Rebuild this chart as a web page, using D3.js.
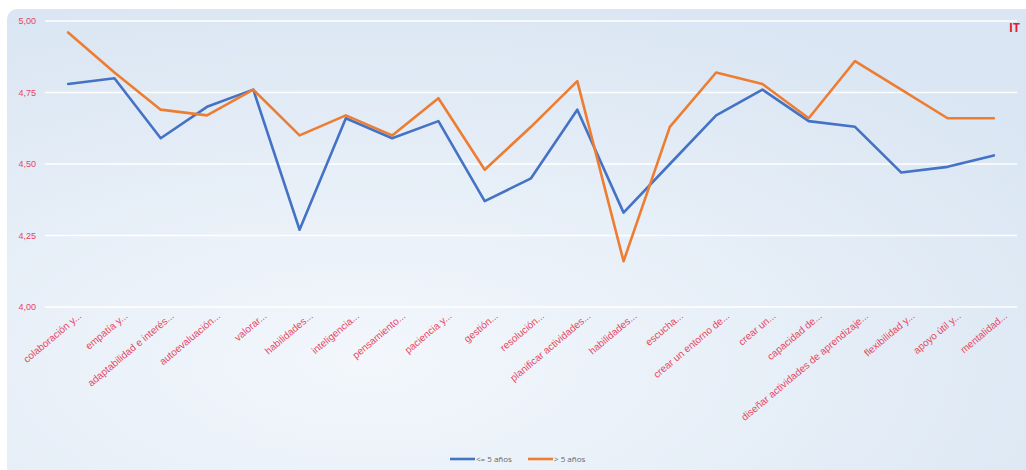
<!DOCTYPE html>
<html><head><meta charset="utf-8">
<script src="https://cdn.jsdelivr.net/npm/d3@7"></script>
<style>html,body{margin:0;padding:0;background:#fff;}svg{display:block;font-family:"Open Sans","Noto Sans",sans-serif;}</style>
</head><body><svg id="c" width="1026" height="470"></svg>
<script>
const categories = ["colaboración y...","empatía y...","adaptabilidad e interés...","autoevaluación...","valorar...","habilidades...","inteligencia...","pensamiento...","paciencia y...","gestión...","resolución...","planificar actividades...","habilidades...","escucha...","crear un entorno de...","crear un...","capacidad de...","diseñar actividades de aprendizaje...","flexibilidad y...","apoyo útil y...","mentalidad..."];
const seriesLE5 = [4.78,4.80,4.59,4.70,4.76,4.27,4.66,4.59,4.65,4.37,4.45,4.69,4.33,4.50,4.67,4.76,4.65,4.63,4.47,4.49,4.53];
const seriesGT5 = [4.96,4.82,4.69,4.67,4.76,4.60,4.67,4.60,4.73,4.48,4.63,4.79,4.16,4.63,4.82,4.78,4.66,4.86,4.76,4.66,4.66];
const seriesNames = ["<= 5 años","> 5 años"];
const yTicks = [4.00,4.25,4.50,4.75,5.00];
const title = "IT";

const svg = d3.select("#c");
const defs = svg.append("defs");
const rg = defs.append("radialGradient").attr("id","bg").attr("cx","0.35").attr("cy","0.75").attr("r","0.8");
rg.append("stop").attr("offset","0").attr("stop-color","#f3f7fc");
rg.append("stop").attr("offset","1").attr("stop-color","#dae6f3");
svg.append("rect").attr("x",7).attr("y",9).attr("width",1030).attr("height",470).attr("rx",10).attr("fill","url(#bg)");

const m = {l:45, r:1017, t:21, b:307};
const x = d3.scaleBand().domain(d3.range(categories.length)).range([m.l,m.r]);
const y = d3.scaleLinear().domain([4,5]).range([m.b,m.t]);
const red = "#e8455e";

// gridlines
svg.append("g").selectAll("line").data(yTicks).join("line")
  .attr("x1",m.l).attr("x2",m.r).attr("y1",d=>y(d)).attr("y2",d=>y(d))
  .attr("stroke","#ffffff").attr("stroke-width",1.5);

// y axis
const fmt = d=>d.toFixed(2).replace(".",",");
const ya = svg.append("g").attr("transform",`translate(${m.l-9},0)`)
  .call(d3.axisLeft(y).tickValues(yTicks).tickFormat(fmt).tickSize(0));
ya.select(".domain").remove();
ya.selectAll("text").attr("fill",red).attr("font-size",9).attr("dx",0).attr("x",0).attr("text-anchor","end").attr("dy","0.32em");

// x axis
const xa = svg.append("g").attr("transform",`translate(0,${m.b})`)
  .call(d3.axisBottom(x).tickFormat(i=>categories[i]).tickSize(0));
xa.select(".domain").remove();
xa.selectAll("text").attr("fill",red).attr("font-size",10)
  .attr("text-anchor","end").attr("dy",0).attr("y",0)
  .attr("transform","translate(14,10) rotate(-40)");

// lines
const line = d3.line().x((d,i)=>x(i)+x.bandwidth()/2).y(d=>y(d));
const colors = ["#4472c4","#ed7d31"];
[seriesLE5, seriesGT5].forEach((s,k)=>{
  svg.append("path").datum(s).attr("d",line).attr("fill","none")
    .attr("stroke",colors[k]).attr("stroke-width",2.6).attr("stroke-linejoin","round").attr("stroke-linecap","round");
});

// title
svg.append("text").attr("x",1020).attr("y",32).attr("text-anchor","end").attr("fill","#e0202f")
  .attr("font-weight","bold").attr("font-size",12).text(title);

// legend
const lg = svg.append("g").attr("font-size",8).attr("fill","#666");
const legX = [450,528];
seriesNames.forEach((n,k)=>{
  lg.append("line").attr("x1",legX[k]).attr("x2",legX[k]+25).attr("y1",459).attr("y2",459)
    .attr("stroke",colors[k]).attr("stroke-width",2.6);
  lg.append("text").attr("x",legX[k]+26).attr("y",462).text(n).attr("fill","#666");
});
</script></body></html>
